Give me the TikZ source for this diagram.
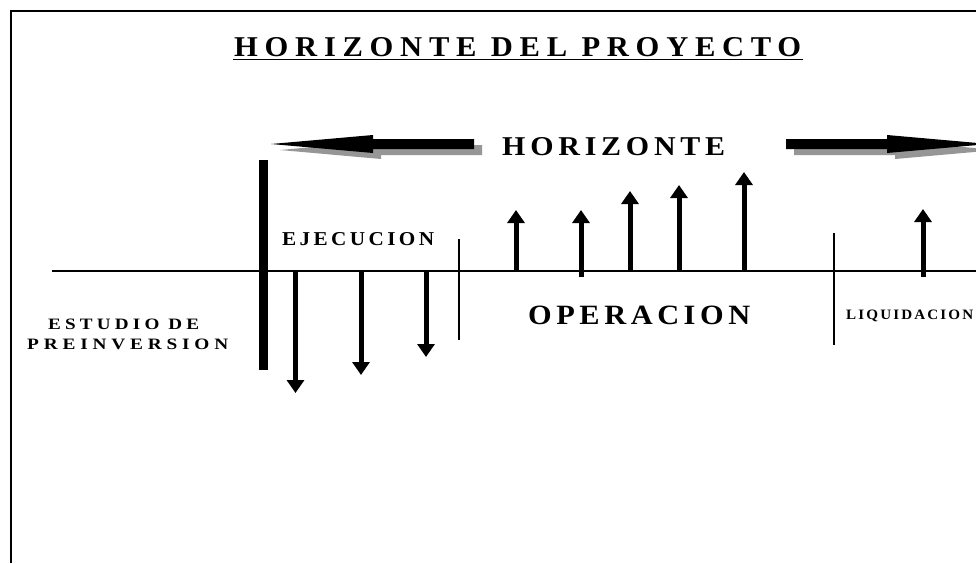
\documentclass[tikz,border=0pt]{standalone}
\usepackage{fontspec}
\setmainfont{Liberation Serif}
\usetikzlibrary{arrows.meta}
\definecolor{shadowgray}{RGB}{150,150,150}
\newcommand{\fitlabel}[4]{\resizebox{#1pt}{#2pt}{\bfseries\addfontfeatures{LetterSpace=#3}#4}}
\tikzset{
  lbl/.style={inner sep=0pt, anchor=base west},
  cashflow/.style={line width=5pt, line cap=butt, -{Triangle[width=17pt,length=13pt]}},
  divider/.style={line width=1.2pt},
  bigarrow/.style={fill=black, draw=none},
  bigshadow/.style={fill=shadowgray, draw=none}
}
\begin{document}
\begin{tikzpicture}[x=1pt,y=-1pt]
\useasboundingbox (0,0) rectangle (976,563);
\fill[white] (0,0) rectangle (976,563);
% frame
\coordinate (fTL) at (10.5,11);
\coordinate (fBL) at (10.5,563);
\coordinate (fTR) at (976,11);
\draw[line width=2pt] (fBL) -- (fTL) -- (fTR);
% title
\node[lbl] (title) at (234,56) {\fitlabel{567}{19}{22}{HORIZONTE DEL PROYECTO}};
\coordinate (ul1) at (233,59.5);
\coordinate (ul2) at (803,59.5);
\draw[line width=1.5pt] (ul1) -- (ul2);
% big horizon arrows: shadows
\fill[bigshadow] (280,150) -- (381,141) -- (381,145) -- (482,145) -- (482,155) -- (381,155) -- (381,159) -- cycle;
\fill[bigshadow] (997,150) -- (895,141) -- (895,145) -- (794,145) -- (794,155) -- (895,155) -- (895,159) -- cycle;
% big horizon arrows
\fill[bigarrow] (271,144) -- (373,135) -- (373,139) -- (474,139) -- (474,149) -- (373,149) -- (373,153) -- cycle;
\fill[bigarrow] (989,144) -- (887,135) -- (887,139) -- (786,139) -- (786,149) -- (887,149) -- (887,153) -- cycle;
\node[lbl] (horiz) at (502,155) {\fitlabel{223}{18}{16}{HORIZONTE}};
% thick bar
\fill (259,160) rectangle (268,370);
% axis
\coordinate (ax1) at (52,271);
\coordinate (ax2) at (976,271);
\draw[line width=1.3pt] (ax1) -- (ax2);
% labels
\node[lbl] (ejec) at (282,245) {\fitlabel{152}{13}{16}{EJECUCION}};
\node[lbl] (oper) at (528,324) {\fitlabel{222}{18.5}{15}{OPERACION}};
\node[lbl] (liq) at (846,319) {\fitlabel{127}{9.5}{14}{LIQUIDACION}};
\node[lbl] (est1) at (48,329) {\fitlabel{151}{10.5}{22}{ESTUDIO DE}};
\node[lbl] (est2) at (27,349) {\fitlabel{201}{10.5}{25}{PREINVERSION}};
% dividers
\coordinate (d1a) at (459,239); \coordinate (d1b) at (459,340);
\coordinate (d2a) at (834,233); \coordinate (d2b) at (834,345);
\draw[divider] (d1a) -- (d1b);
\draw[divider] (d2a) -- (d2b);
% investment (down) arrows
\coordinate (e1s) at (295.5,271); \coordinate (e1t) at (295.5,393);
\coordinate (e2s) at (361,271);   \coordinate (e2t) at (361,375);
\coordinate (e3s) at (426,271);   \coordinate (e3t) at (426,357);
\draw[cashflow] (e1s) -- (e1t);
\draw[cashflow] (e2s) -- (e2t);
\draw[cashflow] (e3s) -- (e3t);
% operation (up) arrows
\coordinate (o1s) at (516,271); \coordinate (o1t) at (516,210);
\coordinate (o2s) at (581,277); \coordinate (o2t) at (581,210);
\coordinate (o3s) at (630,271); \coordinate (o3t) at (630,191);
\coordinate (o4s) at (679,271); \coordinate (o4t) at (679,185);
\coordinate (o5s) at (744,271); \coordinate (o5t) at (744,172);
\coordinate (l1s) at (923,277); \coordinate (l1t) at (923,209);
\draw[cashflow] (o1s) -- (o1t);
\draw[cashflow] (o2s) -- (o2t);
\draw[cashflow] (o3s) -- (o3t);
\draw[cashflow] (o4s) -- (o4t);
\draw[cashflow] (o5s) -- (o5t);
\draw[cashflow] (l1s) -- (l1t);
\end{tikzpicture}
\end{document}
